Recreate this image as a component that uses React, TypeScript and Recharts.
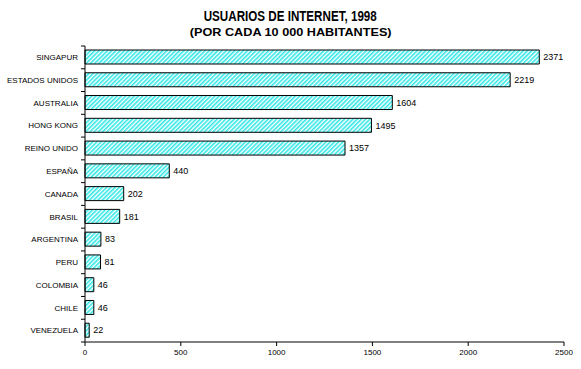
import { Bar, BarChart, LabelList, XAxis, YAxis } from 'recharts'

const countries = [
  'SINGAPUR',
  'ESTADOS UNIDOS',
  'AUSTRALIA',
  'HONG KONG',
  'REINO UNIDO',
  'ESPAÑA',
  'CANADA',
  'BRASIL',
  'ARGENTINA',
  'PERU',
  'COLOMBIA',
  'CHILE',
  'VENEZUELA',
]
const users = [2371, 2219, 1604, 1495, 1357, 440, 202, 181, 83, 81, 46, 46, 22]
const xTicks = [0, 500, 1000, 1500, 2000, 2500]

const data = countries.map((name, i) => ({ name, value: users[i] }))

const font = 'Arial, "Liberation Sans", sans-serif'
const LABEL_GAP = 7
const W = 581
const H = 369
const MARGIN = { top: 46, right: 17, bottom: 6, left: 0 }
const X_AXIS_H = 21
const PLOT_H = H - MARGIN.top - MARGIN.bottom - X_AXIS_H
const HALF_BAND = PLOT_H / countries.length / 2

// category label plus the small ticks that sit between categories
function CountryTick(props: any) {
  const { x, y, payload, index } = props
  if (x == null || y == null || !payload) return null
  const axisX = Number(x) + LABEL_GAP
  const cy = Number(y)
  const last = index === countries.length - 1
  return (
    <g>
      <rect x={axisX - 4} y={cy - HALF_BAND - 0.5} width={4} height={1} fill="#000" />
      {last && <rect x={axisX - 4} y={cy + HALF_BAND - 0.5} width={4} height={1} fill="#000" />}
      <text
        x={x}
        y={cy}
        dy="0.35em"
        textAnchor="end"
        fontSize={8}
        fontFamily={font}
        fill="#000"
      >
        {payload.value}
      </text>
    </g>
  )
}

export default function App() {
  return (
    <div
      style={{
        position: 'absolute',
        left: 0,
        top: 0,
        width: W,
        height: H,
        background: '#fff',
        fontFamily: font,
      }}
    >
      <div
        style={{
          position: 'absolute',
          top: 8,
          left: 0,
          width: W,
          textAlign: 'center',
          fontSize: 14,
          fontWeight: 'bold',
          lineHeight: '17px',
        }}
      >
        <span style={{ display: 'inline-block', transform: 'scaleX(0.83)' }}>
          USUARIOS DE INTERNET, 1998
        </span>
      </div>
      <div
        style={{
          position: 'absolute',
          top: 25,
          left: 0,
          width: W,
          textAlign: 'center',
          fontSize: 11,
          fontWeight: 'bold',
          lineHeight: '14px',
        }}
      >
        <span style={{ display: 'inline-block', transform: 'scaleX(1.15)' }}>
          (POR CADA 10 000 HABITANTES)
        </span>
      </div>
      <BarChart
        width={W}
        height={H}
        data={data}
        layout="vertical"
        margin={MARGIN}
        barSize={14}
        style={{ position: 'absolute', left: 0, top: 0 }}
      >
        <defs>
          <pattern
            id="hatch"
            width="3"
            height="3"
            patternUnits="userSpaceOnUse"
            patternTransform="rotate(45)"
          >
            <rect width="3" height="3" fill="#ffffff" />
            <rect width="1.6" height="3" fill="#33e6e6" />
          </pattern>
        </defs>
        <XAxis
          type="number"
          domain={[0, 2500]}
          ticks={xTicks}
          tick={{ fill: '#000', fontSize: 8, fontFamily: font }}
          axisLine={{ stroke: '#000' }}
          tickLine={{ stroke: '#000' }}
          tickSize={4}
          tickMargin={3}
          height={X_AXIS_H}
        />
        <XAxis
          xAxisId="top"
          orientation="top"
          type="number"
          domain={[0, 2500]}
          tick={false}
          tickLine={false}
          axisLine={{ stroke: '#888' }}
          height={0}
        />
        <YAxis
          type="category"
          dataKey="name"
          tick={CountryTick}
          axisLine={{ stroke: '#000' }}
          tickLine={false}
          tickSize={0}
          tickMargin={LABEL_GAP}
          interval={0}
          width={85}
        />
        <YAxis
          yAxisId="right"
          orientation="right"
          type="number"
          domain={[0, 1]}
          tick={false}
          tickLine={false}
          axisLine={{ stroke: '#888' }}
          width={0}
        />
        <Bar
          dataKey="value"
          fill="url(#hatch)"
          stroke="#000"
          strokeWidth={1}
          isAnimationActive={false}
        >
          <LabelList
            dataKey="value"
            position="right"
            offset={4}
            style={{ fill: '#000', fontSize: 9, fontFamily: font }}
          />
        </Bar>
      </BarChart>
    </div>
  )
}
